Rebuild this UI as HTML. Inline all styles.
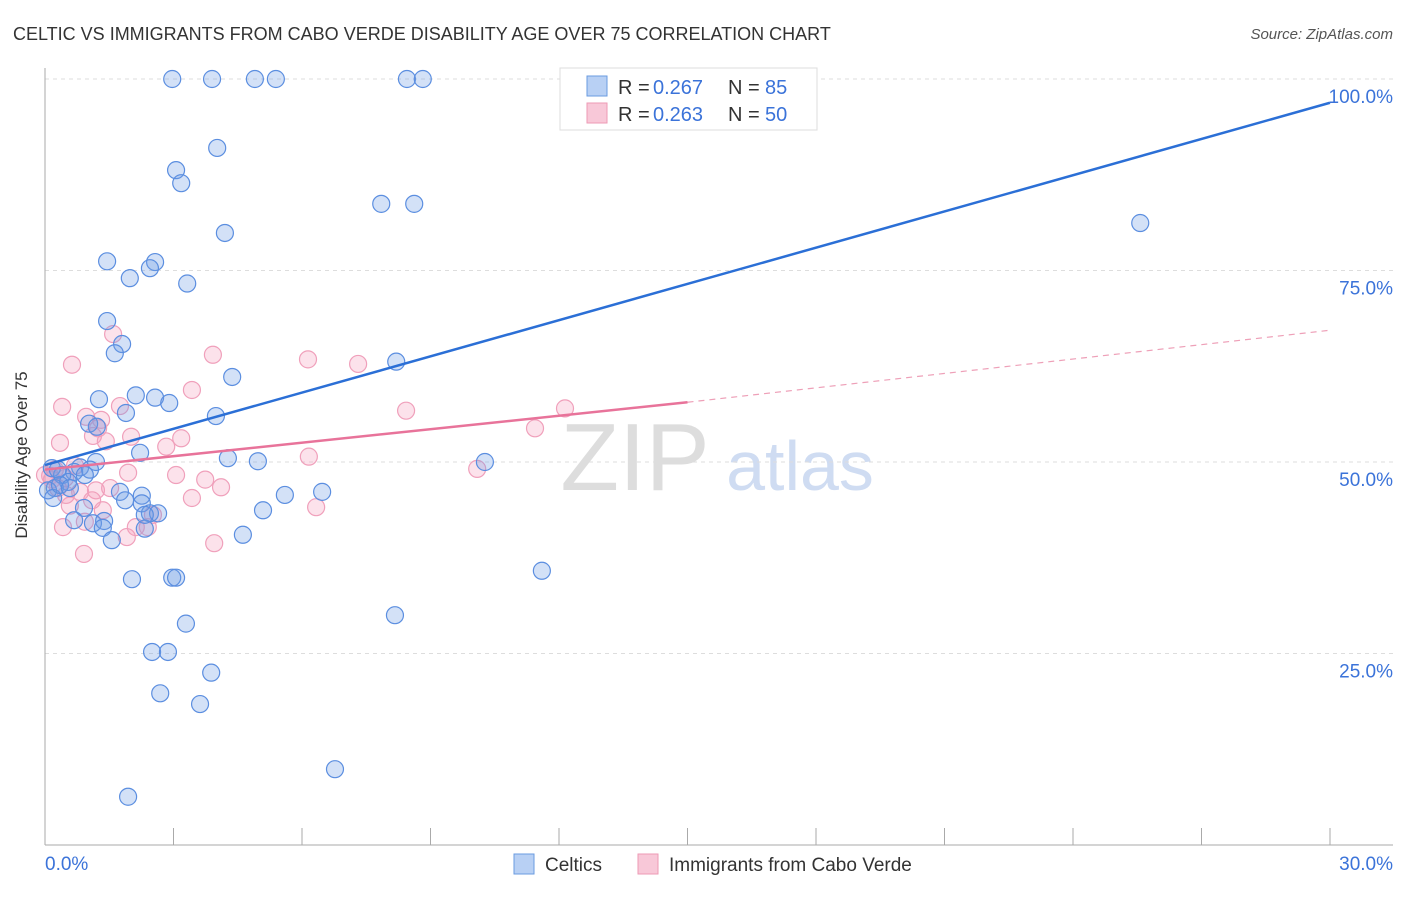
<!DOCTYPE html>
<html><head><meta charset="utf-8"><style>
body{margin:0;background:#fff;font-family:"Liberation Sans",sans-serif;}
svg text{font-family:"Liberation Sans",sans-serif;}
</style></head><body>
<svg id="c" width="1406" height="892">
<text x="13" y="40" font-size="18" fill="#333">CELTIC VS IMMIGRANTS FROM CABO VERDE DISABILITY AGE OVER 75 CORRELATION CHART</text>
<text x="1393" y="39" font-size="15" fill="#555" font-style="italic" text-anchor="end">Source: ZipAtlas.com</text>
<text x="27" y="455" font-size="17" fill="#333" text-anchor="middle" transform="rotate(-90 27 455)">Disability Age Over 75</text>
<g><text x="635" y="490" font-size="96" font-family="Liberation Serif" fill="#ddd" text-anchor="middle">ZIP</text><text x="800" y="490" font-size="70" fill="#cfdcf2" text-anchor="middle">atlas</text></g>
<g id="grid"></g><g id="pts"></g><g id="lines"></g>
<g>
<rect x="560" y="68" width="257" height="62" fill="#fff" stroke="#ddd"/>
<rect x="587" y="76" width="20" height="20" fill="#b8d0f4" stroke="#6a9be0"/>
<rect x="587" y="103" width="20" height="20" fill="#f8c8d8" stroke="#ee9ab5"/>
<text y="94" font-size="20" fill="#333"><tspan x="618">R =</tspan><tspan x="653" fill="#3b73d9">0.267</tspan><tspan x="728">N =</tspan><tspan x="765" fill="#3b73d9">85</tspan></text>
<text y="121" font-size="20" fill="#333"><tspan x="618">R =</tspan><tspan x="653" fill="#3b73d9">0.263</tspan><tspan x="728">N =</tspan><tspan x="765" fill="#3b73d9">50</tspan></text>
</g>
<g>
<rect x="514" y="854" width="20" height="20" fill="#b8d0f4" stroke="#6a9be0"/>
<text x="545" y="871" font-size="19" fill="#333">Celtics</text>
<rect x="638" y="854" width="20" height="20" fill="#f8c8d8" stroke="#ee9ab5"/>
<text x="669" y="871" font-size="19" fill="#333">Immigrants from Cabo Verde</text>
</g>
</svg>
<script>
const yTicks=[25,50,75,100];
const yTickLabels=["25.0%","50.0%","75.0%","100.0%"];
const xEndLabels=["0.0%","30.0%"];
const blueX=[2.97,3.90,4.90,5.39,8.45,8.82,3.06,3.18,4.02,7.85,8.62,25.57,4.20,1.45,2.57,2.45,1.98,3.32,1.45,1.80,1.63,8.20,4.37,1.26,2.12,2.57,2.90,1.89,3.99,1.03,1.21,2.22,4.27,4.97,10.27,1.19,0.82,1.05,0.68,0.16,0.40,0.54,0.23,0.07,0.19,6.47,5.60,1.75,2.26,1.87,2.26,0.91,5.09,2.45,2.64,0.68,1.12,1.38,2.33,1.35,1.56,4.62,11.60,2.03,2.97,3.06,8.17,3.29,2.50,2.87,3.88,2.69,3.62,6.77,1.94,2.33,0.35,0.58,0.93,0.30];
const blueY=[100,100,100,100,100,100,88.1,86.4,91.0,83.7,83.7,81.2,79.9,76.2,76.1,75.3,74.0,73.3,68.4,65.4,64.2,63.1,61.1,58.2,58.7,58.4,57.7,56.4,56.0,55.0,54.6,51.2,50.5,50.1,50.0,50.0,49.3,49.0,48.7,49.2,48.3,47.4,46.6,46.3,45.3,46.1,45.7,46.1,45.6,45.0,44.6,44.0,43.7,43.3,43.3,42.4,42.0,42.3,41.3,41.4,39.8,40.5,35.8,34.7,34.9,34.9,30.0,28.9,25.2,25.2,22.5,19.8,18.4,9.9,6.3,43.1,47.0,46.6,48.3,49.0];
const pinkX=[0.63,1.59,3.92,6.14,7.31,3.43,0.40,1.75,1.31,0.96,8.43,12.14,11.44,1.12,2.01,3.18,1.42,0.35,2.83,1.24,6.16,10.09,3.06,1.94,3.74,4.11,0.70,0.23,0.12,0.47,0.82,1.19,3.43,6.33,0.58,1.35,0.93,0.42,2.12,2.52,2.40,1.91,3.95,0.91,0.16,0.30,0.49,1.10,1.52,0.0];
const pinkY=[62.7,66.7,64.0,63.4,62.8,59.4,57.2,57.3,55.5,55.9,56.7,57.0,54.4,53.4,53.3,53.1,52.7,52.5,52.0,54.4,50.7,49.1,48.3,48.6,47.7,46.7,49.5,49.0,48.2,47.9,46.1,46.3,45.3,44.1,44.3,43.7,42.2,41.5,41.5,43.1,41.5,40.2,39.4,38.0,47.7,46.6,45.7,45.0,46.6,48.3];
const blueTrend=[49.6,96.9];
const pinkTrend=[49.0,57.8,67.2];
const X=v=>45+v/30*1285, Y=v=>845-v*7.66;
const NS="http://www.w3.org/2000/svg";
function mk(p,t,a){const e=document.createElementNS(NS,t);for(const k in a)e.setAttribute(k,a[k]);p.appendChild(e);return e;}
const g=document.getElementById('grid');
yTicks.forEach((t,i)=>{
 const l=mk(g,'line',{x1:45,x2:1393,y1:Y(t),y2:Y(t),stroke:'#ddd','stroke-dasharray':'4 4'});
 
 
 const tx=mk(g,'text',{x:1393,y:Y(t)+24,'font-size':19,fill:'#3b73d9','text-anchor':'end'});tx.textContent=yTickLabels[i];
 
 
});
const ax=mk(g,'line',{x1:45,x2:45,y1:68,y2:845,stroke:'#aaa'});


const bx=mk(g,'line',{x1:45,x2:1393,y1:845,y2:845,stroke:'#aaa'});


for(let v=3;v<=30;v+=3){const t=mk(g,'line',{x1:X(v),x2:X(v),y1:828,y2:845,stroke:'#aaa'});
 
 }
[[0,'start',45],[30,'end',1393]].forEach((d,i)=>{const t=mk(g,'text',{x:d[2],y:870,'font-size':19,fill:'#3b73d9','text-anchor':d[1]});t.textContent=xEndLabels[i];
 
 });
const p=document.getElementById('pts');
pinkX.forEach((x,i)=>{const c=mk(p,'circle',{cx:X(x),cy:Y(pinkY[i]),r:8.5,fill:'rgba(244,160,188,0.3)',stroke:'#f0a0bb','stroke-width':1.2});
 
 });
blueX.forEach((x,i)=>{const c=mk(p,'circle',{cx:X(x),cy:Y(blueY[i]),r:8.5,fill:'rgba(110,155,230,0.3)',stroke:'#5b8ee0','stroke-width':1.2});
 
 });
const L=document.getElementById('lines');
const bl=mk(L,'line',{x1:X(0),y1:Y(blueTrend[0]),x2:X(30),y2:Y(blueTrend[1]),stroke:'#2b6fd6','stroke-width':2.5});


const pl=mk(L,'line',{x1:X(0),y1:Y(pinkTrend[0]),x2:X(15),y2:Y(pinkTrend[1]),stroke:'#e8739a','stroke-width':2.5});


const pd=mk(L,'line',{x1:X(15),y1:Y(pinkTrend[1]),x2:X(30),y2:Y(pinkTrend[2]),stroke:'#eea0b8','stroke-width':1.2,'stroke-dasharray':'6 5'});


</script>
</body></html>
